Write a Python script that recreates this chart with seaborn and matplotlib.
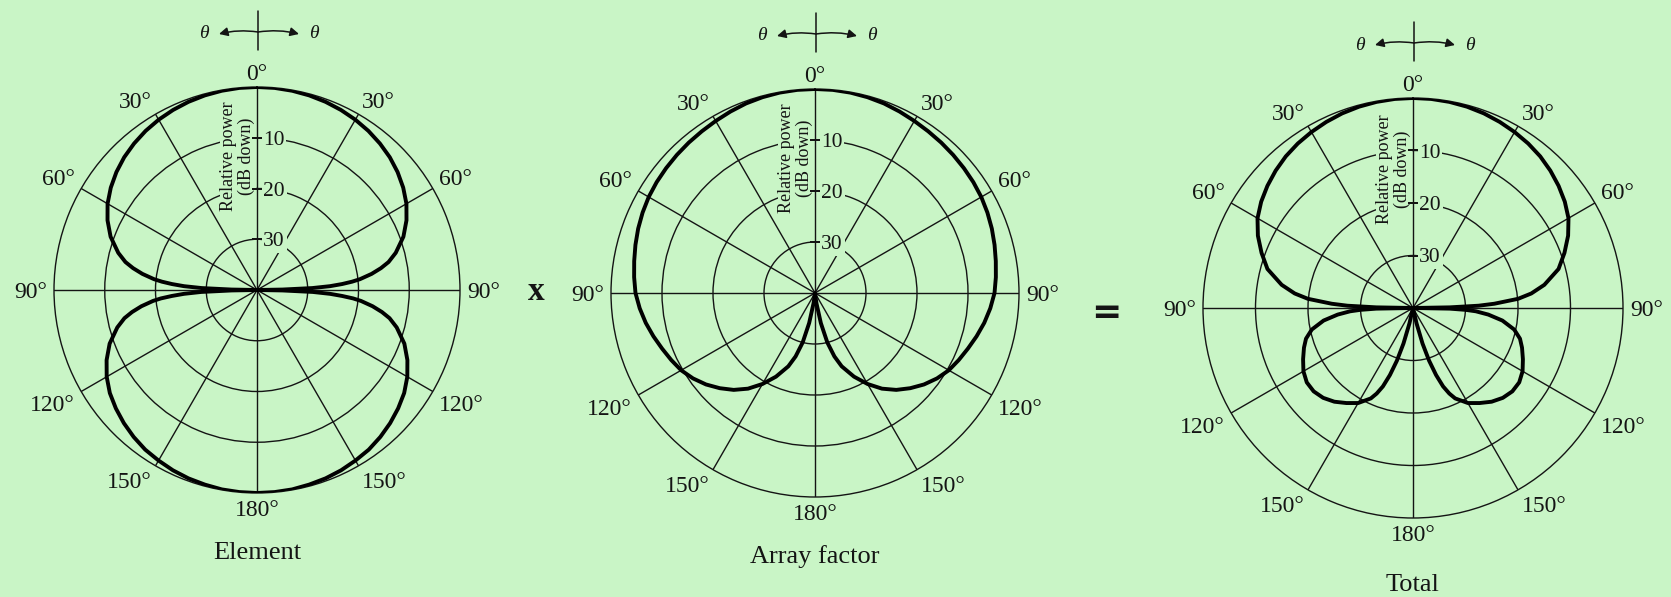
import numpy as np
import matplotlib
matplotlib.use("Agg")
import matplotlib.pyplot as plt
import seaborn as sns

# Power patterns: angle from the 0° direction (degrees) and level in dB down
# from the peak.  The right half (0°–180°) is listed; the left half mirrors it.
element_deg = [0, 5, 10, 15, 20, 25, 30, 35, 40, 45, 50, 55, 60, 65, 70, 75, 78, 80, 82, 84, 85,
               86, 87, 88, 89, 90, 91, 92, 93, 94, 95, 96, 98, 100, 102, 105, 110, 115, 120, 125,
               130, 135, 140, 145, 150, 155, 160, 165, 170, 175, 180]
element_db = [0.0, 0.03, 0.13, 0.3, 0.54, 0.86, 1.25, 1.73, 2.32, 3.0, 3.84, 4.83, 6.0, 7.5, 9.3,
              11.7, 13.5, 15.2, 17.2, 19.6, 21.2, 23.2, 25.6, 29.1, 35.0, 40.0, 35.0, 29.0, 25.6,
              23.2, 21.0, 19.4, 17.0, 15.0, 13.3, 11.5, 9.1, 7.3, 5.8, 4.6, 3.7, 2.9, 2.2, 1.6,
              1.2, 0.8, 0.5, 0.3, 0.1, 0.03, 0.0]

array_deg = [0, 5, 10, 15, 20, 25, 30, 35, 40, 45, 50, 55, 60, 65, 70, 75, 80, 85, 90, 95, 100,
             105, 110, 115, 120, 125, 130, 135, 140, 145, 150, 155, 160, 163, 166, 169, 172,
             175, 180]
array_db = [0.0, 0.02, 0.1, 0.25, 0.45, 0.75, 1.05, 1.3, 1.5, 1.7, 1.9, 2.1, 2.35, 2.7, 3.1, 3.55,
            4.0, 4.4, 4.8, 5.5, 6.3, 7.2, 8.1, 8.9, 9.7, 10.8, 12.1, 13.6, 15.2, 17.1, 19.4, 21.9,
            24.7, 27.0, 30.0, 34.0, 38.0, 40.0, 40.0]

total_deg = [0, 5, 10, 15, 20, 25, 30, 35, 40, 45, 50, 55, 60, 65, 70, 75, 80, 83, 85, 87, 88,
             89, 90, 91, 92, 93, 95, 98, 102, 106, 110, 115, 120, 125, 130, 135, 140, 145, 150,
             155, 157, 159, 161, 163, 165, 167, 169, 180]
total_db = [0.0, 0.03, 0.13, 0.3, 0.55, 0.9, 1.3, 1.75, 2.3, 3.0, 3.8, 4.7, 5.8, 7.4, 9.3, 11.3,
            14.6, 17.3, 19.9, 24.5, 27.5, 33.0, 40.0, 33.0, 30.0, 28.0, 25.6, 22.8, 20.3, 18.8,
            17.9, 16.9, 15.9, 15.3, 15.3, 15.8, 16.7, 17.9, 19.1, 21.0, 22.3, 24.0, 26.5, 29.5,
            33.0, 37.0, 40.0, 40.0]

captions = ["Element", "Array factor", "Total"]
ring_db = [10, 20, 30]
DB_RANGE = 40

W, H = 1671, 597
BG = "#C9F5C6"
INK = "#141414"

sns.set_style("white")
plt.rcParams["font.family"] = ["Liberation Serif", "DejaVu Serif"]
plt.rcParams["axes.facecolor"] = "none"
plt.rcParams["figure.facecolor"] = BG

fig = plt.figure(figsize=(W / 100, H / 100), dpi=100)

panels = [
    dict(deg=element_deg, db=element_db, caption=captions[0], cx=257, cy=290, rad=203, cap_y=553),
    dict(deg=array_deg, db=array_db, caption=captions[1], cx=815, cy=293, rad=204, cap_y=557),
    dict(deg=total_deg, db=total_db, caption=captions[2], cx=1413, cy=308, rad=210, cap_y=585),
]

overlay = fig.add_axes([0, 0, 1, 1], zorder=10)
overlay.set_xlim(0, W)
overlay.set_ylim(H, 0)
overlay.axis("off")


def polar_panel(p):
    cx, cy, R = p["cx"], p["cy"], p["rad"]
    ax = fig.add_axes([(cx - R) / W, (H - cy - R) / H, 2 * R / W, 2 * R / H], projection="polar")
    ax.set_facecolor("none")
    ax.set_theta_zero_location("N")
    ax.set_theta_direction(-1)
    ax.set_ylim(0, DB_RANGE)
    ax.set_yticks([DB_RANGE - d for d in ring_db])
    ax.set_yticklabels([])
    ax.set_xticks(np.deg2rad(np.arange(0, 360, 30)))
    ax.set_xticklabels([])
    ax.tick_params(length=0)
    ax.grid(True, color=INK, lw=1.0)
    ax.spines["polar"].set_color(INK)
    ax.spines["polar"].set_linewidth(1.0)

    half_deg = np.asarray(p["deg"], dtype=float)
    half_db = np.asarray(p["db"], dtype=float)
    theta = np.deg2rad(np.concatenate([half_deg, 360 - half_deg[::-1]]))
    level = np.concatenate([half_db, half_db[::-1]])
    r = np.clip(DB_RANGE - level, 0, None)
    sns.lineplot(x=theta, y=r, ax=ax, sort=False, estimator=None,
                 color="black", lw=2.8, zorder=5)
    for line in ax.get_lines():
        line.set_solid_joinstyle("round")
    ax.set_xlabel("")
    ax.set_ylabel("")

    # angle labels, both sides counted from 0°
    rl = DB_RANGE * 1.035
    for a in range(0, 360, 30):
        val = a if a <= 180 else 360 - a
        side = 0 if a in (0, 180) else (1 if a < 180 else -1)
        ha = {0: "center", 1: "left", -1: "right"}[side]
        if val < 90:
            va = "baseline"
        elif val == 90:
            va = "center_baseline"
        else:
            va = "top"
        ax.text(np.deg2rad(a), rl, f"{val}°", ha=ha, va=va, fontsize=17,
                color=INK, clip_on=False)

    # ring values along the 0° spoke
    for d in ring_db:
        ax.annotate(str(d), xy=(0, DB_RANGE - d), xytext=(4.5, 0), textcoords="offset points",
                    ha="left", va="center_baseline", fontsize=15.5, color=INK, zorder=4,
                    bbox=dict(boxstyle="square,pad=0.08", fc=BG, ec="none"))
    ax.plot(np.zeros(len(ring_db)), [DB_RANGE - d for d in ring_db], ls="none",
            marker="_", ms=7, mew=1.1, color=INK, zorder=6)
    ax.annotate("Relative power\n(dB down)", xy=(0, DB_RANGE * 0.66), xytext=(-1.2, 0),
                textcoords="offset points", rotation=90, ha="right", va="center",
                fontsize=13, linespacing=1.05, multialignment="center", color=INK, zorder=4,
                bbox=dict(boxstyle="square,pad=0.05", fc=BG, ec="none"))

    # theta direction marker above the pattern
    top = cy - R
    tx = cx + 1
    ly = top - 55
    overlay.plot([tx, tx], [top - 76, top - 37], color=INK, lw=1.1)
    arrow = dict(arrowstyle="-|>", lw=1.1, color=INK, mutation_scale=13, shrinkA=0, shrinkB=0)
    overlay.annotate("", xy=(cx - 38, ly + 2), xytext=(tx, ly),
                     arrowprops=dict(arrow, connectionstyle="arc3,rad=0.1"))
    overlay.annotate("", xy=(cx + 42, ly + 2), xytext=(tx, ly),
                     arrowprops=dict(arrow, connectionstyle="arc3,rad=-0.1"))
    overlay.text(cx - 53, ly + 2, "θ", ha="center", va="center", fontsize=14,
                 fontstyle="italic", color=INK)
    overlay.text(cx + 57, ly + 2, "θ", ha="center", va="center", fontsize=14,
                 fontstyle="italic", color=INK)

    overlay.text(cx, p["cap_y"], p["caption"], ha="center", va="center",
                 fontsize=19, color=INK)


for p in panels:
    polar_panel(p)

overlay.text(536, 291, "x", ha="center", va="center", fontsize=24, fontweight="bold", color=INK)
overlay.text(1106, 313, "=", ha="center", va="center", fontsize=26, fontweight="bold",
             color=INK, family="DejaVu Sans")

fig.savefig("out.png", dpi=100, facecolor=BG)
